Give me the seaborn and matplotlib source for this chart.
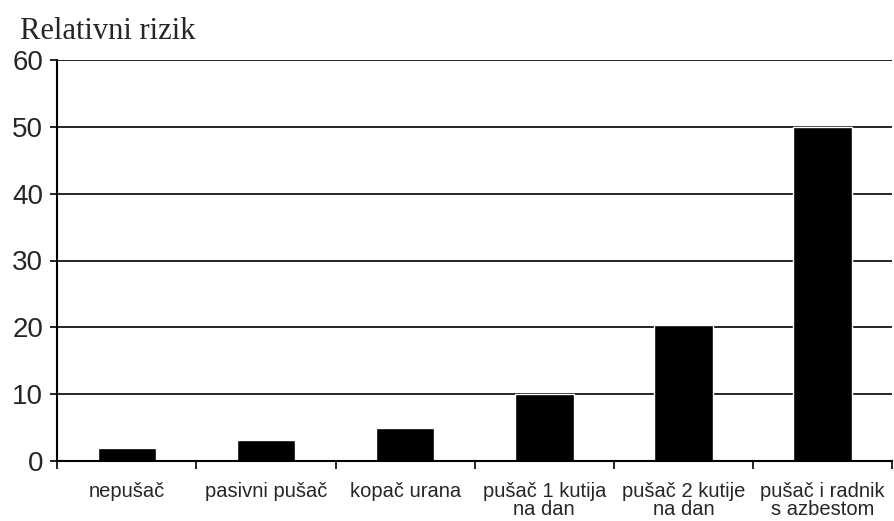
import numpy as np
import pandas as pd
import matplotlib
matplotlib.use('Agg')
import matplotlib.pyplot as plt
import seaborn as sns

# data
categories = ['nepušač', 'pasivni pušač', 'kopač urana',
              'pušač 1 kutija\nna dan', 'pušač 2 kutije\nna dan',
              'pušač i radnik\ns azbestom']
risk = [2, 3.1, 5, 10, 20.4, 50]
y_ticks = [0, 10, 20, 30, 40, 50, 60]

df = pd.DataFrame({'kategorija': categories, 'rizik': risk})

sns.set_theme(style='white')
plt.rcParams['font.family'] = ['Liberation Sans', 'DejaVu Sans']

fig = plt.figure(figsize=(8.94, 5.21), dpi=100)
ax = fig.add_axes([0.064, 0.115, 0.934, 0.77])

sns.barplot(x='kategorija', y='rizik', data=df, color='black',
            width=0.42, saturation=1, ax=ax)

ax.set_ylim(0, 60)
ax.set_xlim(-0.5, len(categories) - 0.5)
ax.set_yticks(y_ticks)
ax.yaxis.grid(True, color='black', linewidth=1.2)
ax.set_axisbelow(True)

# category boundaries get the tick marks, labels sit in between
ax.set_xticks(np.arange(-0.5, len(categories)), minor=True)
ax.tick_params(axis='x', which='major', length=0, pad=15, labelsize=14.5)
ax.tick_params(axis='x', which='minor', length=6, width=1.2,
               color='black', direction='out', bottom=True)
ax.tick_params(axis='y', length=5, width=1.2, color='black',
               direction='out', left=True, labelsize=20, pad=5)
for lbl in ax.get_xticklabels():
    lbl.set_linespacing(0.95)

for side in ['top', 'right']:
    ax.spines[side].set_visible(False)
ax.spines['left'].set_color('black')
ax.spines['left'].set_linewidth(1.5)
ax.spines['bottom'].set_color('black')
ax.spines['bottom'].set_linewidth(1.5)

ax.set_xlabel('')
ax.set_ylabel('')
fig.text(0.022, 0.912, 'Relativni rizik', family='Liberation Serif',
         fontsize=22, ha='left', va='bottom')

fig.savefig('out.png', dpi=100, facecolor='white')
